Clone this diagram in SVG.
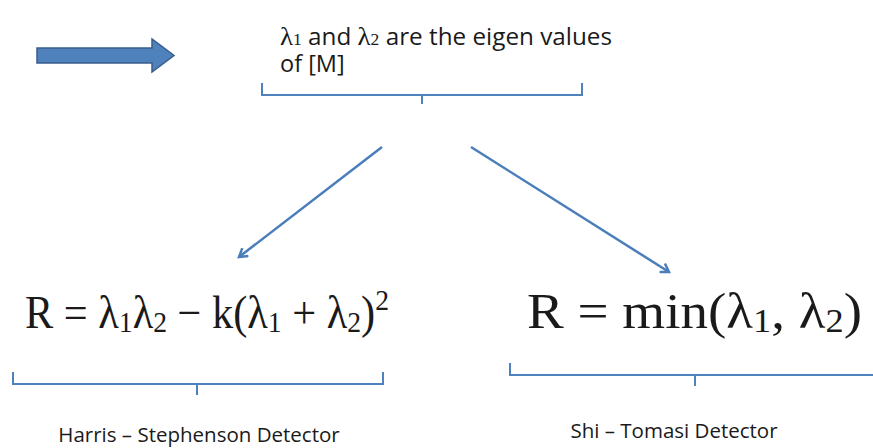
<svg xmlns="http://www.w3.org/2000/svg" width="873" height="448" viewBox="0 0 873 448">
<defs>
<style>
.brace{fill:none;stroke:#4f81bd;stroke-width:2}
.conn{fill:none;stroke:#4a7ebb;stroke-width:2.5}
.txt{font-family:"Open Sans","Liberation Sans",sans-serif;fill:#1a1a1a}
.math{font-family:"Liberation Serif","DejaVu Serif",serif;fill:#1a1a1a}
.lam{font-family:"Liberation Serif",serif}
</style>
<marker id="ah" markerWidth="12" markerHeight="12" refX="9" refY="6" orient="auto" markerUnits="userSpaceOnUse">
<path d="M1,1 L9,6 L1,11" fill="none" stroke="#4a7ebb" stroke-width="2.5"/>
</marker>
</defs>
<rect width="873" height="448" fill="#ffffff"/>
<g id="block-arrow">
<path d="M37,48 L152,48 L152,39 L174,55.5 L152,72 L152,63 L37,63 Z" fill="#4f81bd" stroke="#385d8a" stroke-width="1.5"/>
</g>
<g id="eigen">
<text class="txt" x="280" y="45" font-size="23.5" textLength="332" lengthAdjust="spacingAndGlyphs"><tspan class="lam" font-size="26">λ</tspan><tspan class="lam" font-size="17">1</tspan> and <tspan class="lam" font-size="26">λ</tspan><tspan class="lam" font-size="17">2</tspan> are the eigen values</text>
<text class="txt" x="280" y="72" font-size="23.5">of [M]</text>
<path class="brace" d="M262,83 L262,95 L582,95 L582,83 M422,95 L422,104"/>
</g>
<g id="connectors">
<line class="conn" x1="382" y1="147" x2="239" y2="257" marker-end="url(#ah)"/>
<line class="conn" x1="471" y1="147" x2="669" y2="272" marker-end="url(#ah)"/>
</g>
<g id="harris">
<text class="math" x="25" y="328" font-size="46" textLength="364" lengthAdjust="spacingAndGlyphs">R = λ<tspan font-size="30" dy="4">1</tspan><tspan dy="-4">λ</tspan><tspan font-size="30" dy="4">2</tspan><tspan dy="-4"> − k(λ</tspan><tspan font-size="30" dy="4">1</tspan><tspan dy="-4"> + λ</tspan><tspan font-size="30" dy="4">2</tspan><tspan dy="-4">)</tspan><tspan font-size="30" dy="-18">2</tspan></text>
<path class="brace" d="M13,372 L13,384 L383,384 L383,372 M197,384 L197,395"/>
<text class="txt" x="199" y="442" font-size="20.5" text-anchor="middle">Harris – Stephenson Detector</text>
</g>
<g id="shi-tomasi">
<text class="math" x="527" y="328" font-size="50" textLength="335" lengthAdjust="spacingAndGlyphs">R = min(λ<tspan font-size="33" dy="4">1</tspan><tspan dy="-4">, λ</tspan><tspan font-size="33" dy="4">2</tspan><tspan dy="-4">)</tspan></text>
<path class="brace" d="M510,363 L510,375 L873,375 M695,375 L695,386"/>
<text class="txt" x="674" y="438" font-size="20.5" text-anchor="middle">Shi – Tomasi Detector</text>
</g>
</svg>
